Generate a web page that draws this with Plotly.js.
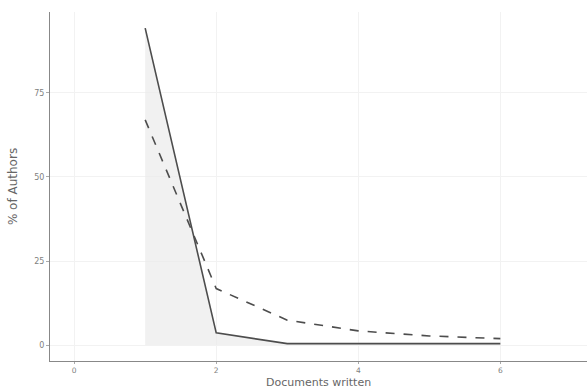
<!DOCTYPE html>
<html><head><meta charset="utf-8">
<script src="https://cdn.plot.ly/plotly-3.0.1.min.js"></script>
<style>html,body{margin:0;padding:0;background:#fff}#chart{width:587px;height:389px}</style>
</head><body><div id="chart"></div>
<script>
const docs = [1, 2, 3, 4, 5, 6];
const observed = [94.3, 3.6, 0.4, 0.4, 0.4, 0.4];
const theoretical = [67.0, 16.8, 7.4, 4.2, 2.7, 1.9];
const xTicks = [0, 2, 4, 6];
const yTicks = [0, 25, 50, 75];

const traces = [
  {x: docs, y: observed, type: 'scatter', mode: 'lines', fill: 'tozeroy',
   fillcolor: 'rgba(235,235,235,0.7)', line: {color: '#4d4d4d', width: 1.6}, name: 'Observed'},
  {x: docs, y: theoretical, type: 'scatter', mode: 'lines',
   line: {color: '#4d4d4d', width: 1.6, dash: 'dash'}, name: 'Theoretical'}
];
const layout = {
  width: 587, height: 389,
  margin: {l: 50, r: 0, t: 12, b: 28},
  showlegend: false,
  paper_bgcolor: '#fff', plot_bgcolor: '#fff',
  font: {family: 'DejaVu Sans, sans-serif', color: '#666'},
  xaxis: {range: [-0.34, 7.22], tickvals: xTicks, ticktext: xTicks.map(String),
    showline: true, linecolor: '#888', linewidth: 1, zeroline: false,
    showgrid: true, gridcolor: '#f2f2f2', ticks: 'outside', ticklen: 2, tickcolor: '#aaa',
    tickfont: {size: 7.5, color: '#808080'}},
  yaxis: {range: [-4.76, 99.1], tickvals: yTicks, ticktext: yTicks.map(String),
    showline: true, linecolor: '#888', linewidth: 1, zeroline: false,
    showgrid: true, gridcolor: '#f2f2f2', ticks: 'outside', ticklen: 3, tickcolor: '#aaa',
    tickfont: {size: 8, color: '#808080'},
    title: {text: '% of Authors', font: {size: 12, color: '#666'}, standoff: 14}},
  annotations: [{text: 'Documents written', xref: 'paper', yref: 'paper', x: 0.5, y: 0,
    xanchor: 'center', yanchor: 'middle', yshift: -21, showarrow: false,
    font: {size: 11, color: '#666'}}]
};
Plotly.newPlot('chart', traces, layout, {displayModeBar: false, staticPlot: true});
</script></body></html>
